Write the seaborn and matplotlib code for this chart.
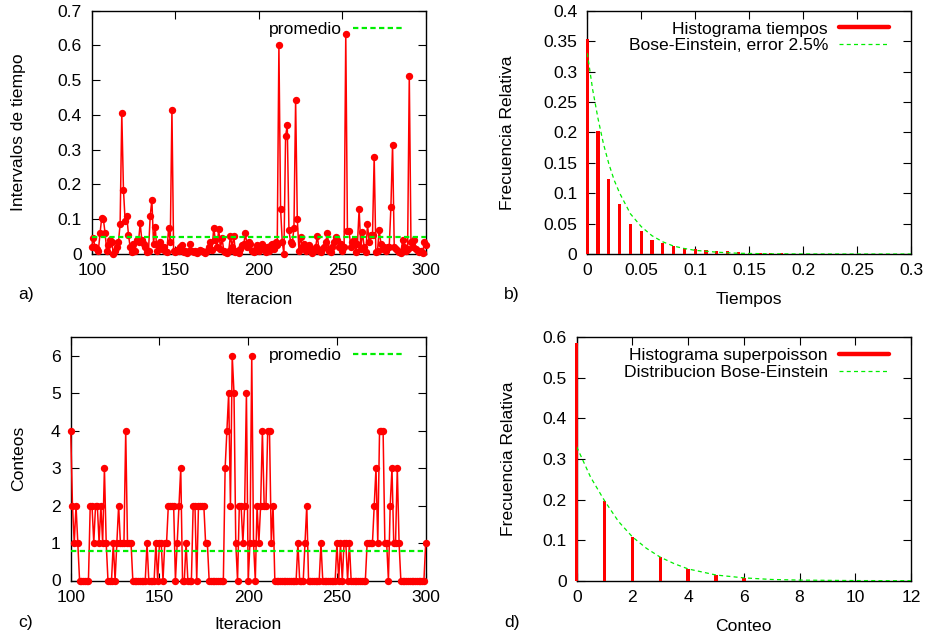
import numpy as np
import pandas as pd
import matplotlib
matplotlib.use("Agg")
import matplotlib.pyplot as plt
from matplotlib.ticker import FuncFormatter, MultipleLocator
from matplotlib.lines import Line2D
import seaborn as sns

# ---------------- data ----------------
iteraciones = list(range(100, 301))

intervalos = [
    0.020, 0.045, 0.020, 0.015, 0.010, 0.060, 0.105, 0.100, 0.060, 0.010,
    0.025, 0.040, 0.035, 0.000, 0.010, 0.020, 0.035, 0.085, 0.405, 0.185,
    0.095, 0.110, 0.055, 0.020, 0.005, 0.030, 0.010, 0.040, 0.035, 0.088,
    0.040, 0.030, 0.020, 0.005, 0.010, 0.110, 0.155, 0.030, 0.078, 0.010,
    0.020, 0.035, 0.015, 0.020, 0.010, 0.005, 0.075, 0.035, 0.415, 0.010,
    0.005, 0.012, 0.008, 0.020, 0.025, 0.005, 0.010, 0.003, 0.008, 0.030,
    0.010, 0.005, 0.010, 0.003, 0.008, 0.012, 0.010, 0.005, 0.003, 0.008,
    0.020, 0.035, 0.012, 0.075, 0.040, 0.020, 0.073, 0.015, 0.045, 0.010,
    0.005, 0.003, 0.010, 0.053, 0.020, 0.052, 0.005, 0.010, 0.003, 0.015,
    0.025, 0.030, 0.060, 0.020, 0.035, 0.030, 0.010, 0.005, 0.015, 0.025,
    0.010, 0.020, 0.030, 0.015, 0.005, 0.020, 0.010, 0.025, 0.030, 0.015,
    0.035, 0.025, 0.600, 0.130, 0.035, 0.000, 0.340, 0.370, 0.068, 0.035,
    0.030, 0.076, 0.443, 0.100, 0.010, 0.050, 0.020, 0.030, 0.010, 0.020,
    0.025, 0.015, 0.003, 0.010, 0.020, 0.053, 0.010, 0.005, 0.015, 0.020,
    0.035, 0.060, 0.010, 0.005, 0.020, 0.035, 0.050, 0.040, 0.020, 0.030,
    0.010, 0.020, 0.632, 0.065, 0.065, 0.020, 0.035, 0.040, 0.005, 0.030,
    0.130, 0.015, 0.063, 0.020, 0.005, 0.085, 0.035, 0.055, 0.055, 0.280,
    0.005, 0.010, 0.070, 0.030, 0.015, 0.020, 0.010, 0.020, 0.020, 0.135,
    0.315, 0.020, 0.015, 0.010, 0.005, 0.002, 0.040, 0.020, 0.010, 0.015,
    0.513, 0.035, 0.020, 0.040, 0.015, 0.010, 0.005, 0.010, 0.002, 0.035,
    0.025,
]

conteos = [
    4, 2, 1, 2, 1, 0, 0, 0, 0, 0,
    0, 2, 2, 1, 2, 2, 1, 2, 1, 3,
    1, 0, 0, 0, 1, 0, 1, 2, 1, 1,
    1, 4, 1, 1, 1, 0, 0, 0, 0, 0,
    0, 0, 0, 1, 0, 0, 0, 0, 1, 0,
    1, 1, 0, 1, 1, 2, 2, 2, 2, 0,
    1, 2, 3, 0, 0, 1, 0, 0, 0, 2,
    2, 0, 2, 2, 2, 2, 1, 1, 0, 0,
    0, 0, 0, 0, 0, 0, 0, 3, 4, 5,
    2, 6, 5, 1, 0, 2, 2, 1, 2, 5,
    0, 1, 6, 1, 0, 2, 1, 2, 4, 2,
    2, 4, 4, 1, 2, 0, 0, 0, 0, 0,
    0, 0, 0, 0, 0, 0, 0, 0, 1, 0,
    0, 0, 1, 2, 0, 0, 0, 0, 0, 0,
    0, 1, 0, 0, 0, 0, 0, 0, 0, 0,
    1, 0, 1, 0, 1, 1, 0, 1, 0, 0,
    0, 0, 0, 0, 0, 0, 0, 1, 1, 1,
    1, 2, 3, 1, 4, 4, 4, 1, 1, 0,
    2, 3, 1, 1, 3, 1, 0, 0, 0, 0,
    0, 0, 0, 0, 0, 0, 0, 0, 0, 0,
    1,
]

promedio_intervalos = 0.048
promedio_conteos = 0.79

tiempos_x = [0.00, 0.01, 0.02, 0.03, 0.04, 0.05, 0.06, 0.07, 0.08, 0.09,
             0.10, 0.11, 0.12, 0.13, 0.14, 0.15, 0.16, 0.17, 0.18]
tiempos_frec = [0.353, 0.203, 0.124, 0.083, 0.050, 0.038, 0.023, 0.0175, 0.013, 0.010,
                0.008, 0.006, 0.0045, 0.005, 0.0033, 0.001, 0.002, 0.002, 0.002]

be_tiempos_x = [0.0, 0.005, 0.01, 0.015, 0.02, 0.025, 0.03, 0.04, 0.05, 0.06,
                0.07, 0.08, 0.09, 0.10, 0.12, 0.14, 0.17, 0.20, 0.25, 0.30]
be_tiempos_y = [0.330, 0.270, 0.222, 0.181, 0.148, 0.121, 0.100, 0.066, 0.045, 0.030,
                0.020, 0.013, 0.009, 0.006, 0.003, 0.0012, 0.0003, 0.0001, 0.0, 0.0]

conteo_x = [0, 1, 2, 3, 4, 5, 6]
conteo_frec = [0.587, 0.196, 0.108, 0.059, 0.028, 0.013, 0.006]

be_conteo_x = [0, 0.5, 1, 1.5, 2, 2.5, 3, 3.5, 4, 5, 6, 7, 8, 10, 12]
be_conteo_y = [0.330, 0.255, 0.197, 0.146, 0.108, 0.080, 0.058, 0.042, 0.029,
               0.014, 0.007, 0.003, 0.0015, 0.0003, 0.0]

assert len(intervalos) == len(iteraciones) == len(conteos)

# ---------------- style ----------------
sns.set_style("ticks")
plt.rcParams['font.family'] = ['Liberation Sans', 'DejaVu Sans']
FS = 12.6
plt.rcParams.update({
    'font.size': FS,
    'xtick.direction': 'in', 'ytick.direction': 'in',
    'xtick.top': True, 'ytick.right': True,
    'xtick.major.size': 6, 'ytick.major.size': 6,
    'xtick.major.width': 0.8, 'ytick.major.width': 0.8,
    'xtick.major.pad': 6.8, 'ytick.major.pad': 7.3,
    'axes.linewidth': 1.0, 'axes.edgecolor': 'black',
    'xtick.color': 'black', 'ytick.color': 'black',
    'xtick.labelsize': FS, 'ytick.labelsize': FS,
    'axes.labelsize': FS, 'text.color': 'black', 'axes.labelcolor': 'black',
})

RED = '#ff0000'
GREEN = '#00ee00'
W, H = 928, 639
fig = plt.figure(figsize=(W / 100, H / 100), dpi=100)


def add_ax(l, t, r, b):
    return fig.add_axes([l / W, 1 - b / H, (r - l) / W, (b - t) / H])


axa = add_ax(91.7, 10.7, 426, 254)
axb = add_ax(587.3, 10.7, 911, 254)
axc = add_ax(70.7, 337, 425.7, 580.5)
axd = add_ax(576.7, 337.3, 911, 580.7)

fmt = FuncFormatter(lambda v, p: '%g' % round(v, 6))

# ---------------- panel a ----------------
sns.lineplot(x=iteraciones, y=intervalos, ax=axa, color=RED, lw=1.1, marker='o',
             markersize=5.3, markeredgewidth=0, clip_on=False, zorder=3)
sns.lineplot(x=[100, 300], y=[promedio_intervalos, promedio_intervalos], ax=axa,
             color=GREEN, lw=1.6, linestyle=(0, (2.4, 1.5)), zorder=4)
axa.set_xlim(100, 300)
axa.set_ylim(0, 0.7)
axa.xaxis.set_major_locator(MultipleLocator(50))
axa.yaxis.set_major_locator(MultipleLocator(0.1))
axa.yaxis.set_major_formatter(fmt)
axa.set_xlabel('Iteracion')
axa.set_ylabel('Intervalos de tiempo')
axa.xaxis.set_label_coords(0.5, -0.157)
axa.yaxis.set_label_coords(-0.197, 0.5)

# ---------------- panel b ----------------
sns.barplot(x=tiempos_x, y=tiempos_frec, ax=axb, native_scale=True, width=0.3,
            color=RED, saturation=1, linewidth=0, errorbar=None, zorder=2)
sns.lineplot(x=be_tiempos_x, y=be_tiempos_y, ax=axb, color=GREEN, lw=0.9,
             linestyle=(0, (3.2, 2.6)), zorder=3)
axb.set_xlim(0, 0.3)
axb.set_ylim(0, 0.4)
axb.xaxis.set_major_locator(MultipleLocator(0.05))
axb.yaxis.set_major_locator(MultipleLocator(0.05))
axb.xaxis.set_major_formatter(fmt)
axb.yaxis.set_major_formatter(fmt)
axb.set_xlabel('Tiempos')
axb.set_ylabel('Frecuencia Relativa')
axb.xaxis.set_label_coords(0.5, -0.156)
axb.yaxis.set_label_coords(-0.222, 0.5)

# ---------------- panel c ----------------
sns.lineplot(x=iteraciones, y=conteos, ax=axc, color=RED, lw=1.1, marker='o',
             markersize=5.3, markeredgewidth=0, clip_on=False, zorder=3)
sns.lineplot(x=[100, 300], y=[promedio_conteos, promedio_conteos], ax=axc,
             color=GREEN, lw=1.6, linestyle=(0, (2.4, 1.5)), zorder=4)
axc.set_xlim(100, 300)
axc.set_ylim(0, 6.5)
axc.xaxis.set_major_locator(MultipleLocator(50))
axc.yaxis.set_major_locator(MultipleLocator(1))
axc.set_xlabel('Iteracion')
axc.set_ylabel('Conteos')
axc.xaxis.set_label_coords(0.5, -0.149)
axc.yaxis.set_label_coords(-0.126, 0.5)

# ---------------- panel d ----------------
sns.barplot(x=conteo_x, y=conteo_frec, ax=axd, native_scale=True, width=0.12,
            color=RED, saturation=1, linewidth=0, errorbar=None, zorder=2)
sns.lineplot(x=be_conteo_x, y=be_conteo_y, ax=axd, color=GREEN, lw=0.9,
             linestyle=(0, (3.2, 2.6)), zorder=3)
axd.set_xlim(0, 12)
axd.set_ylim(0, 0.6)
axd.xaxis.set_major_locator(MultipleLocator(2))
axd.yaxis.set_major_locator(MultipleLocator(0.1))
axd.yaxis.set_major_formatter(fmt)
axd.set_xlabel('Conteo')
axd.set_ylabel('Frecuencia Relativa')
axd.xaxis.set_label_coords(0.5, -0.159)
axd.yaxis.set_label_coords(-0.183, 0.5)

for ax in (axb, axd):
    for p in ax.patches:
        p.set_clip_on(False)

for ax in (axa, axb, axc, axd):
    ax.minorticks_off()
    for s in ax.spines.values():
        s.set_visible(True)
        s.set_zorder(1)

# ---------------- legends ----------------
def legend(ax, handles, labels, right_px, top_px, spacing):
    ax.legend(handles, labels, loc='upper right',
              bbox_to_anchor=(right_px / W, 1 - top_px / H),
              bbox_transform=fig.transFigure, frameon=False, markerfirst=False,
              borderpad=0, borderaxespad=0, handlelength=2.86,
              handletextpad=0.63, labelspacing=spacing, fontsize=FS)

prom = Line2D([], [], color=GREEN, lw=1.6, linestyle=(0, (2.4, 1.5)))
be = Line2D([], [], color=GREEN, lw=0.9, linestyle=(0, (3.2, 2.6)))
hist = Line2D([], [], color=RED, lw=3.2)
legend(axa, [prom], ['promedio'], 403, 22, 0)
legend(axc, [prom], ['promedio'], 403, 348, 0)
legend(axb, [hist, be], ['Histograma tiempos', 'Bose-Einstein, error 2.5%'], 889, 21.3, 0.08)
legend(axd, [hist, be], ['Histograma superpoisson', 'Distribucion Bose-Einstein'], 889, 348, 0.08)

# ---------------- panel labels ----------------
for txt, x, y in [('a)', 26, 295), ('b)', 512, 295), ('c)', 26, 622), ('d)', 512, 622)]:
    fig.text(x / W, 1 - y / H, txt, ha='center', va='center', fontsize=FS)

fig.savefig('out.png', dpi=100)
